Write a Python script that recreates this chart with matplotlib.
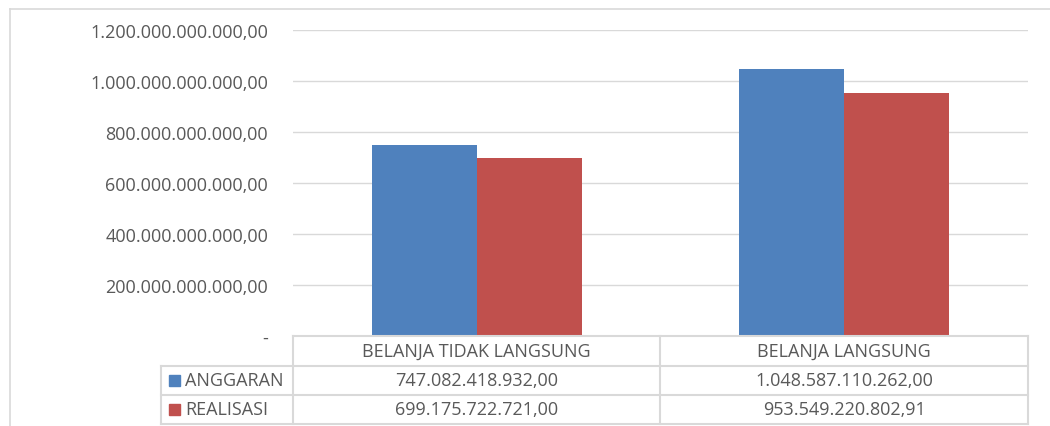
import matplotlib
matplotlib.use("Agg")
import matplotlib.pyplot as plt
from matplotlib.patches import Rectangle
from matplotlib.lines import Line2D

categories = ["BELANJA TIDAK LANGSUNG", "BELANJA LANGSUNG"]
series_names = ["ANGGARAN", "REALISASI"]
anggaran = [747082418932.00, 1048587110262.00]
realisasi = [699175722721.00, 953549220802.91]
anggaran_labels = ["747.082.418.932,00", "1.048.587.110.262,00"]
realisasi_labels = ["699.175.722.721,00", "953.549.220.802,91"]
yticks = [0, 200e9, 400e9, 600e9, 800e9, 1000e9, 1200e9]
ytick_labels = ["-", "200.000.000.000,00", "400.000.000.000,00", "600.000.000.000,00",
                "800.000.000.000,00", "1.000.000.000.000,00", "1.200.000.000.000,00"]

colors = ["#4F81BD", "#C0504D"]
text_color = "#595959"
grid_color = "#D9D9D9"
font = "Open Sans"

W, H = 1050, 427
fig = plt.figure(figsize=(W / 100, H / 100), dpi=100)

def fx(px):
    return px / W

def fy(py):
    return 1 - py / H

x0, x1 = 293, 1028
ytop, ybot = 31, 337
ax = fig.add_axes([fx(x0), fy(ybot), fx(x1) - fx(x0), fy(ytop) - fy(ybot)])
ax.set_xlim(0, len(categories))
ax.set_ylim(0, 1.2e12)

bw = 0.286
for i in range(len(categories)):
    c = i + 0.5
    ax.bar(c - bw / 2, anggaran[i], width=bw, color=colors[0], zorder=3)
    ax.bar(c + bw / 2, realisasi[i], width=bw, color=colors[1], zorder=3)

ax.set_yticks(yticks)
ax.set_yticklabels(ytick_labels, fontsize=13, color=text_color, family=font)
ax.tick_params(axis="y", length=0, pad=18)
ax.set_xticks([])
ax.yaxis.grid(True, color=grid_color, linewidth=1, zorder=0)
for s in ax.spines.values():
    s.set_visible(False)

# outer chart border (top and left)
fig.add_artist(Line2D([fx(10), fx(1050)], [fy(10), fy(10)], color=grid_color, lw=1.2))
fig.add_artist(Line2D([fx(10), fx(10)], [fy(10), fy(427)], color=grid_color, lw=1.2))

# data table
rows_y = [337, 367, 396, 425]
col_x = [161, 293, 660, 1028]
lw = 1.5
tc = "#D9D9D9"
fig.add_artist(Line2D([fx(293), fx(1028)], [fy(337), fy(337)], color=tc, lw=lw))
for yy in rows_y[1:]:
    fig.add_artist(Line2D([fx(161), fx(1028)], [fy(yy), fy(yy)], color=tc, lw=lw))
fig.add_artist(Line2D([fx(161), fx(161)], [fy(367), fy(425)], color=tc, lw=lw))
for xx in col_x[1:]:
    fig.add_artist(Line2D([fx(xx), fx(xx)], [fy(337), fy(425)], color=tc, lw=lw))

tfs = 13
for i, cat in enumerate(categories):
    cx = (col_x[i + 1] + col_x[i + 2]) / 2
    fig.text(fx(cx), fy(352), cat, ha="center", va="center", fontsize=tfs, color=text_color, family=font)
    fig.text(fx(cx), fy(381.5), anggaran_labels[i], ha="center", va="center", fontsize=tfs, color=text_color, family=font)
    fig.text(fx(cx), fy(410.5), realisasi_labels[i], ha="center", va="center", fontsize=tfs, color=text_color, family=font)

for j, (name, yy) in enumerate(zip(series_names, [381.5, 410.5])):
    fig.add_artist(Rectangle((fx(169), fy(yy + 5)), fx(11), fy(0) - fy(11), color=colors[j],
                             transform=fig.transFigure))
    fig.text(fx(185), fy(yy), name, ha="left", va="center", fontsize=tfs, color=text_color, family=font)

fig.savefig("out.png", dpi=100)
